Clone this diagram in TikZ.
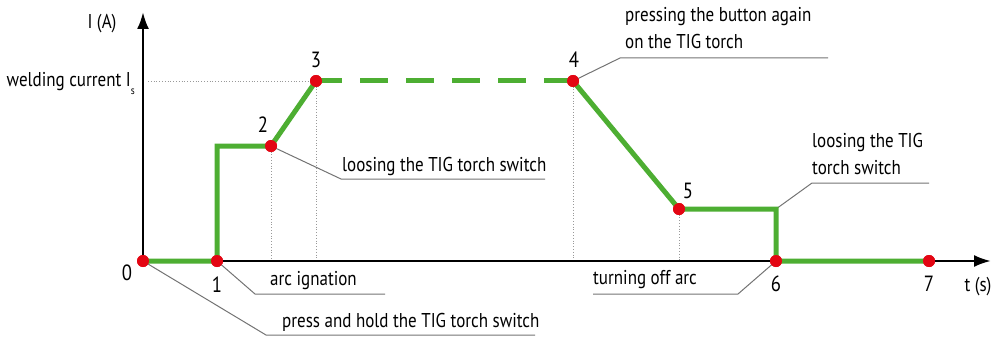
\documentclass[tikz,border=0pt]{standalone}
\usepackage{fontspec}
\setmainfont[FakeStretch=0.85]{PT Sans}
\usetikzlibrary{arrows.meta,positioning}
\definecolor{curvegreen}{RGB}{77,174,50}
\definecolor{pointred}{RGB}{227,6,19}
\tikzset{%
    >={Latex[width=12pt,length=17pt]},
    axis/.style = {draw=black, line width=2.5pt},
    curve/.style = {draw=curvegreen, line width=5pt},
    point/.style = {circle, fill=pointred, minimum size=12pt, inner sep=0pt},
    guide/.style = {draw=gray!80, line width=0.8pt, dotted},
    callout/.style = {draw=gray!90!black, line width=1pt},
    caption/.style = {inner sep=0pt, font=\fontsize{20}{27}\selectfont, align=left},
    number/.style = {inner sep=0pt, anchor=base, font=\fontsize{22}{25}\selectfont},
}

\begin{document}
\begin{tikzpicture}[x=1pt, y=-1pt]
    \useasboundingbox (0,0) rectangle (999,337);

    % Points of the current curve
    \node (p0) [point] at (143,261) {};
    \node (p1) [point] at (217,261) {};
    \node (p2) [point] at (271,146) {};
    \node (p3) [point] at (316,81)  {};
    \node (p4) [point] at (573,81)  {};
    \node (p5) [point] at (679,209) {};
    \node (p6) [point] at (776,261) {};
    \node (p7) [point] at (929,261) {};
    \coordinate (c1) at (217,146);
    \coordinate (c6) at (776,209);
    \coordinate (ytop) at (143,12);
    \coordinate (xend) at (991,261);
    \coordinate (ys) at (148,81);

    % Guide lines
    \draw[guide] (ys) -- (p3.center);
    \draw[guide] (p2.center) -- (p2.center |- p0.center);
    \draw[guide] (p3.center) -- (p3.center |- p0.center);
    \draw[guide] (p4.center) -- (p4.center |- p0.center);
    \draw[guide] (p5.center) -- (p5.center |- p0.center);

    % Callout lines
    \coordinate (k0) at (266,335);  \coordinate (e0) at (535,335);
    \coordinate (k1) at (255,294);  \coordinate (e1) at (385,294);
    \coordinate (k2) at (341,179);  \coordinate (e2) at (545,179);
    \coordinate (k4) at (620,58);   \coordinate (e4) at (828,58);
    \coordinate (k5) at (812,183);  \coordinate (e5) at (929,183);
    \coordinate (k6) at (738,294);  \coordinate (e6) at (593,294);
    \draw[callout] (p0.center) -- (k0) -- (e0);
    \draw[callout] (p1.center) -- (k1) -- (e1);
    \draw[callout] (p2.center) -- (k2) -- (e2);
    \draw[callout] (p4.center) -- (k4) -- (e4);
    \draw[callout] (c6) -- (k5) -- (e5);
    \draw[callout] (p6.center) -- (k6) -- (e6);

    % Axes
    \draw[axis,->] (p0.center) -- (ytop);
    \draw[axis,->] (p0.center) -- (xend);

    % Current curve
    \draw[curve] (p0.center) -- (p1.center) -- (c1) -- (p2.center) -- (p3.center);
    \draw[curve, dash pattern=on 28pt off 18pt, dash phase=2pt] (p3.center) -- (p4.center);
    \draw[curve] (p4.center) -- (p5.center) -- (c6) -- (p6.center) -- (p7.center);

    % Points on top
    \foreach \p in {p0,p1,p2,p3,p4,p5,p6,p7}
        \fill[pointred] (\p) circle (6pt);

    % Numbers
    \node (n0) [number] at (127,280) {0};
    \node (n1) [number] at (217,292) {1};
    \node (n2) [number] at (263,132) {2};
    \node (n3) [number] at (316,67)  {3};
    \node (n4) [number] at (574,67)  {4};
    \node (n5) [number] at (688,198) {5};
    \node (n6) [number] at (776,291) {6};
    \node (n7) [number] at (929,291) {7};

    % Axis texts
    \node (ylab) [caption, anchor=base] at (102,29) {I (A)};
    \node (xlab) [caption, anchor=base] at (978,291) {t (s)};
    \node (weld) [caption, anchor=base east] at (135,87)
        {welding current I\raisebox{-8pt}{\fontsize{11}{11}\selectfont s}};

    % Callout texts
    \node (t0) [caption, anchor=base west] at (282,327) {press and hold the TIG torch switch};
    \node (t1) [caption, anchor=base west] at (270,285) {arc ignation};
    \node (t2) [caption, anchor=base west] at (342,171) {loosing the TIG torch switch};
    \node (t4) [caption, anchor=south west] at (625,49) {pressing the button again\\on the TIG torch};
    \node (t5) [caption, anchor=south west] at (812,175) {loosing the TIG\\torch switch};
    \node (t6) [caption, anchor=base west] at (593,284) {turning off arc};
\end{tikzpicture}
\end{document}
